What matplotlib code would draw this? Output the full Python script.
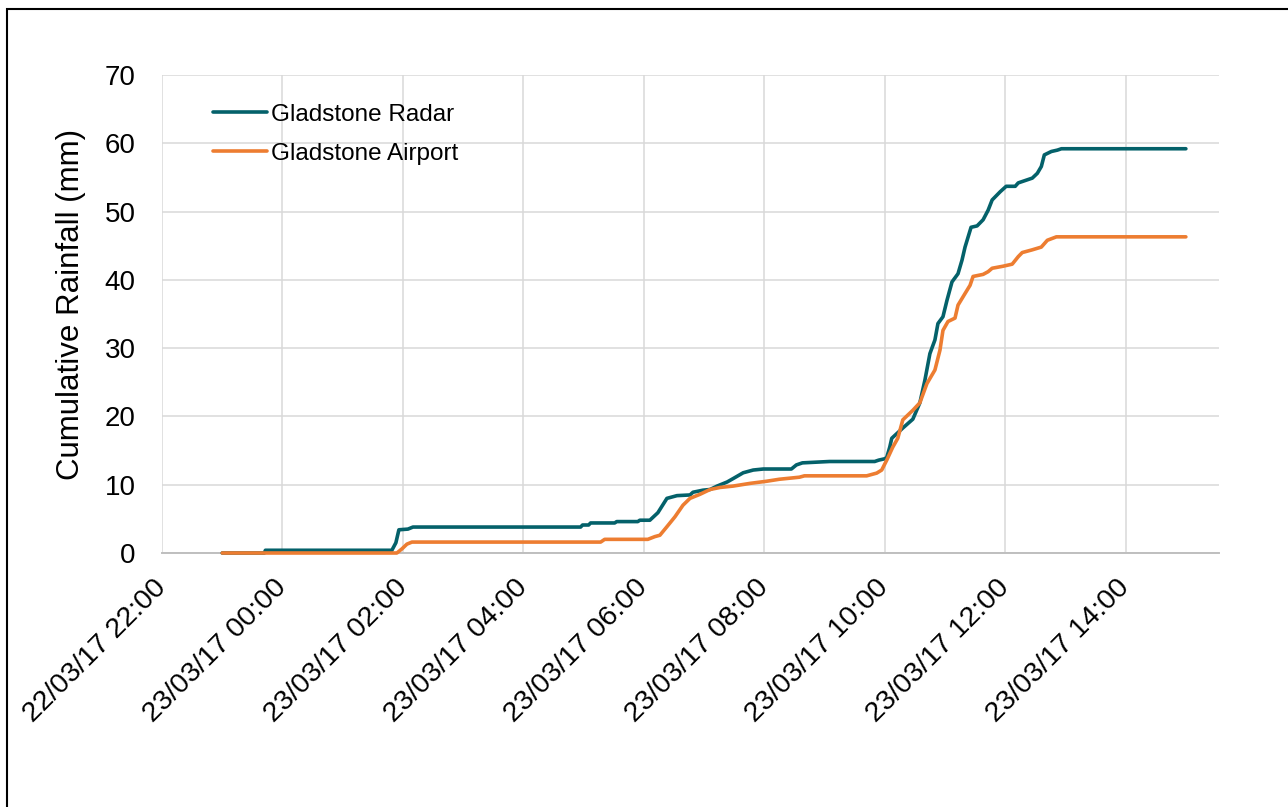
import matplotlib
matplotlib.use("Agg")
import matplotlib.pyplot as plt
import matplotlib.dates as mdates
from matplotlib.patches import Rectangle
import pandas as pd

plt.rcParams['font.family'] = ['Liberation Sans', 'DejaVu Sans']

# cumulative rainfall, times are HH:MM (22:00-23:59 on 22/03, the rest on 23/03)
radar_times = ["23:00", "23:42", "23:43", "01:49", "01:53", "01:56", "02:05", "02:10",
               "04:57", "04:59", "05:05", "05:07", "05:31", "05:33", "05:54", "05:56",
               "06:06", "06:14", "06:23", "06:33", "06:46", "06:49", "06:59", "07:06",
               "07:13", "07:23", "07:29", "07:39", "07:49", "07:59", "08:27", "08:32",
               "08:38", "09:05", "09:50", "09:54", "10:00", "10:02", "10:05", "10:07",
               "10:18", "10:28", "10:35", "10:40", "10:45", "10:50", "10:53", "10:58",
               "11:02", "11:07", "11:13", "11:17", "11:20", "11:26", "11:32", "11:38",
               "11:43", "11:47", "11:55", "12:01", "12:10", "12:13", "12:21", "12:27",
               "12:32", "12:36", "12:39", "12:46", "12:52", "12:56", "15:00"]
radar_mm = [0.0, 0.0, 0.4, 0.4, 1.5, 3.4, 3.5, 3.8,
            3.8, 4.1, 4.1, 4.4, 4.4, 4.6, 4.6, 4.8,
            4.8, 5.9, 8.0, 8.4, 8.5, 8.9, 9.2, 9.3,
            9.8, 10.4, 10.9, 11.75, 12.15, 12.3, 12.3, 12.9,
            13.2, 13.4, 13.4, 13.6, 13.8, 14.0, 15.5, 16.8,
            18.3, 19.6, 22.0, 25.3, 29.2, 31.2, 33.6, 34.6,
            37.0, 39.7, 40.9, 42.9, 44.8, 47.7, 47.9, 48.8,
            50.2, 51.7, 52.9, 53.7, 53.7, 54.2, 54.6, 54.9,
            55.6, 56.6, 58.3, 58.8, 59.0, 59.2, 59.2]

airport_times = ["23:00", "01:54", "01:59", "02:04", "02:09", "05:17", "05:21", "06:04",
                 "06:11", "06:16", "06:23", "06:31", "06:39", "06:46", "06:56", "07:06",
                 "07:16", "07:29", "07:46", "08:02", "08:15", "08:35", "08:40", "09:42",
                 "09:52", "09:57", "10:02", "10:08", "10:13", "10:18", "10:28", "10:35",
                 "10:42", "10:50", "10:55", "10:58", "11:03", "11:10", "11:13", "11:20",
                 "11:25", "11:28", "11:38", "11:43", "11:47", "11:58", "12:07", "12:13",
                 "12:17", "12:27", "12:36", "12:42", "12:51", "15:00"]
airport_mm = [0.0, 0.0, 0.6, 1.3, 1.6, 1.6, 2.0, 2.0,
              2.4, 2.6, 3.85, 5.3, 7.0, 8.0, 8.6, 9.3,
              9.6, 9.8, 10.2, 10.5, 10.8, 11.1, 11.3, 11.3,
              11.7, 12.15, 13.6, 15.5, 16.8, 19.5, 20.9, 22.0,
              24.8, 26.8, 29.7, 32.6, 33.9, 34.4, 36.3, 38.0,
              39.2, 40.5, 40.8, 41.2, 41.7, 42.0, 42.3, 43.4,
              44.0, 44.4, 44.8, 45.8, 46.3, 46.3]


def to_dt(times):
    out = []
    for t in times:
        day = "2017-03-22" if int(t[:2]) >= 22 else "2017-03-23"
        out.append(pd.Timestamp(f"{day} {t}"))
    return out


fig = plt.figure(figsize=(12.88, 8.07), dpi=100)
ax = fig.add_axes([162/1288, 1 - 553/807, (1219-162)/1288, (553-75)/807])

ax.plot(to_dt(radar_times), radar_mm, color="#04616A", lw=2.6, label="Gladstone Radar",
        solid_joinstyle="round", solid_capstyle="round", zorder=3, clip_on=False)
ax.plot(to_dt(airport_times), airport_mm, color="#ED7D31", lw=2.6, label="Gladstone Airport",
        solid_joinstyle="round", solid_capstyle="round", zorder=4, clip_on=False)

ax.set_xlim(pd.Timestamp("2017-03-22 22:00"), pd.Timestamp("2017-03-23 15:33"))
ax.set_ylim(0, 70)
ax.set_yticks(range(0, 71, 10))
ax.xaxis.set_major_locator(mdates.HourLocator(byhour=range(0, 24, 2)))
ax.xaxis.set_major_formatter(mdates.DateFormatter("%d/%m/%y %H:%M"))

ax.grid(True, color="#D9D9D9", lw=1.1)
ax.set_axisbelow(True)
for s in ["top", "right", "left"]:
    ax.spines[s].set_visible(False)
ax.spines["bottom"].set_color("#BFBFBF")
ax.spines["bottom"].set_linewidth(1.4)

ax.tick_params(axis="y", length=0, pad=19, labelsize=20)
ax.tick_params(axis="x", length=0, pad=22, labelsize=20.5)
for lbl in ax.get_xticklabels():
    lbl.set_rotation(45)
    lbl.set_ha("right")
    lbl.set_va("center")
    lbl.set_rotation_mode("anchor")

ax.set_ylabel("Cumulative Rainfall (mm)", fontsize=22.5)
ax.yaxis.set_label_coords(-0.072, 0.52)

ax.legend(loc="upper left", bbox_to_anchor=(0.048, 0.94), frameon=False, fontsize=17.5,
          handlelength=2.22, handletextpad=0.16, labelspacing=0.7, borderpad=0,
          borderaxespad=0)

fig.add_artist(Rectangle((7/1288, -0.1), 1.2, 1.1 - 9/807, transform=fig.transFigure,
                         fill=False, ec="black", lw=1.5))

fig.savefig("out.png", dpi=100)
